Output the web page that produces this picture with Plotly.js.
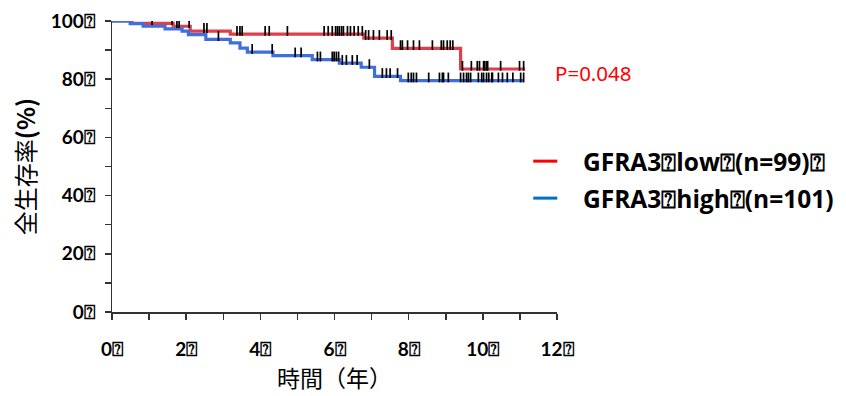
<!DOCTYPE html>
<html><head><meta charset="utf-8">
<script src="https://cdn.plot.ly/plotly-3.0.1.min.js"></script>
<style>html,body{margin:0;padding:0;background:#fff}#chart{width:846px;height:396px}</style>
</head><body><div id="chart"></div>
<script>
// Kaplan-Meier step data (time in years, survival in %)
const lowStepTimes  = [0, 0.54, 1.65, 2.11, 3.19, 6.79, 7.56, 9.40, 11.14];
const lowStepValues = [100, 99.2, 98.2, 96.5, 95.5, 94.1, 90.6, 83.5, 83.5];
const highStepTimes  = [0, 0.49, 0.84, 1.43, 1.89, 2.06, 2.53, 3.19, 3.45, 3.65, 4.34, 5.40, 6.13, 6.72, 7.08, 7.78, 11.10];
const highStepValues = [100, 99.1, 98.2, 97.3, 96.5, 95.3, 93.7, 92.5, 90.7, 89.3, 88.1, 86.7, 85.5, 84.1, 81.0, 79.5, 79.5];
// censored observation times
const lowCensor = [1.08,1.62,1.75,1.81,2.08,2.48,2.56,3.37,3.45,3.51,4.13,4.24,4.73,5.72,5.83,5.94,6.03,6.08,6.13,6.19,6.24,6.35,6.43,6.53,6.64,6.75,6.84,6.92,7.05,7.21,7.42,7.53,7.78,7.83,7.97,8.13,8.29,8.64,8.88,8.94,9.04,9.12,9.19,9.45,9.69,9.85,9.91,10.02,10.05,10.10,10.13,10.48,10.99,11.10];
const highCensor = [2.87,3.78,4.32,4.94,5.10,5.54,5.62,5.94,5.99,6.05,6.11,6.21,6.32,6.48,6.61,6.94,7.29,7.40,7.50,7.70,7.99,8.07,8.13,8.21,8.54,8.83,8.91,8.94,9.07,9.40,9.48,9.56,9.61,9.67,9.88,9.97,10.02,10.10,10.16,10.24,10.26,10.42,10.53,10.66,10.81,11.02,11.10];
const xTickVals = [0,2,4,6,8,10,12];
const xTickText = ['0⍰','2⍰','4⍰','6⍰','8⍰','10⍰','12⍰'];
const yTickVals = [0,20,40,60,80,100];
const yTickText = ['0⍰','20⍰','40⍰','60⍰','80⍰','100⍰'];
const legendLabels = ['GFRA3⍰low⍰(n=99)⍰','GFRA3⍰high⍰(n=101)'];
const pText = 'P=0.048';

const RED = '#de3f4b', BLUE = '#3f6fdd';
const TICK_OFFSET = 1.1;
function survAt(times, vals, t){
  let v = vals[0];
  for(let i=0;i<times.length;i++){ if(times[i] <= t) v = vals[i]; }
  return v;
}
function censorY(times, vals, cens){ return cens.map(t => survAt(times, vals, t) + TICK_OFFSET); }

const traces = [
  {x: lowStepTimes, y: lowStepValues, mode:'lines', line:{shape:'hv', color:RED, width:3.2}, showlegend:false, hoverinfo:'skip'},
  {x: highStepTimes, y: highStepValues, mode:'lines', line:{shape:'hv', color:BLUE, width:3.2}, showlegend:false, hoverinfo:'skip'},
  {x: lowCensor, y: censorY(lowStepTimes, lowStepValues, lowCensor), mode:'markers',
   marker:{symbol:'line-ns', size:7, line:{width:1.7, color:'#000'}}, showlegend:false, hoverinfo:'skip'},
  {x: highCensor, y: censorY(highStepTimes, highStepValues, highCensor), mode:'markers',
   marker:{symbol:'line-ns', size:7, line:{width:1.7, color:'#000'}}, showlegend:false, hoverinfo:'skip'}
];

const tickFont = {family:'Lato, "Noto Sans", sans-serif', size:19, color:'#000', weight:'bold'};
const legFont = {family:'"Open Sans", Lato, sans-serif', size:24.5, color:'#000'};
const layout = {
  width:846, height:396,
  margin:{l:112.3, r:289.3, t:20.7, b:84},
  paper_bgcolor:'#fff', plot_bgcolor:'#fff',
  showlegend:false,
  xaxis:{range:[0,12], tickvals:xTickVals, ticktext:xTickText, ticks:'outside', ticklen:6, tickwidth:1.5, tickcolor:'#333',
    minor:{dtick:1, tick0:0, ticks:'outside', ticklen:6, tickwidth:1.5, tickcolor:'#333'},
    showline:true, linecolor:'#333', linewidth:1.5, showgrid:false, zeroline:false,
    tickfont:tickFont, ticklabelstandoff:14,
    title:{text:'時間（年）', font:{family:'"Noto Sans CJK JP", sans-serif', size:23, color:'#000'}, standoff:6}},
  yaxis:{range:[0,100], tickvals:yTickVals, ticktext:yTickText, ticks:'outside', ticklen:6, tickwidth:1.5, tickcolor:'#333',
    minor:{dtick:10, tick0:0, ticks:'outside', ticklen:6, tickwidth:1.5, tickcolor:'#333'},
    showline:true, linecolor:'#333', linewidth:1.5, showgrid:false, zeroline:false,
    tickfont:tickFont, ticklabelstandoff:6,
    title:{text:'全生存率<b>(%)</b>', font:{family:'"Noto Sans CJK JP", sans-serif', size:24, color:'#000'}, standoff:8}},
  shapes:[
    {type:'line', xref:'paper', yref:'paper', x0:(533-112.3)/444.4, x1:(557-112.3)/444.4, y0:(312-161)/291.3, y1:(312-161)/291.3, line:{color:'#ff0000', width:3}},
    {type:'line', xref:'paper', yref:'paper', x0:(533-112.3)/444.4, x1:(557-112.3)/444.4, y0:(312-198)/291.3, y1:(312-198)/291.3, line:{color:'#0070c0', width:3}}
  ],
  annotations:[
    {xref:'paper', yref:'paper', x:(581-112.3)/444.4, y:(312-161)/291.3, xanchor:'left', yanchor:'middle', showarrow:false,
     text:'<b>'+legendLabels[0]+'</b>', font:legFont},
    {xref:'paper', yref:'paper', x:(581-112.3)/444.4, y:(312-198)/291.3, xanchor:'left', yanchor:'middle', showarrow:false,
     text:'<b>'+legendLabels[1]+'</b>', font:legFont},
    {xref:'paper', yref:'paper', x:(553-112.3)/444.4, y:(312-73)/291.3, xanchor:'left', yanchor:'middle', showarrow:false,
     text:pText, font:{family:'"Noto Sans", sans-serif', size:20.5, color:'#ff0000'}}
  ]
};
Plotly.newPlot('chart', traces, layout, {staticPlot:true, displayModeBar:false});
</script></body></html>
